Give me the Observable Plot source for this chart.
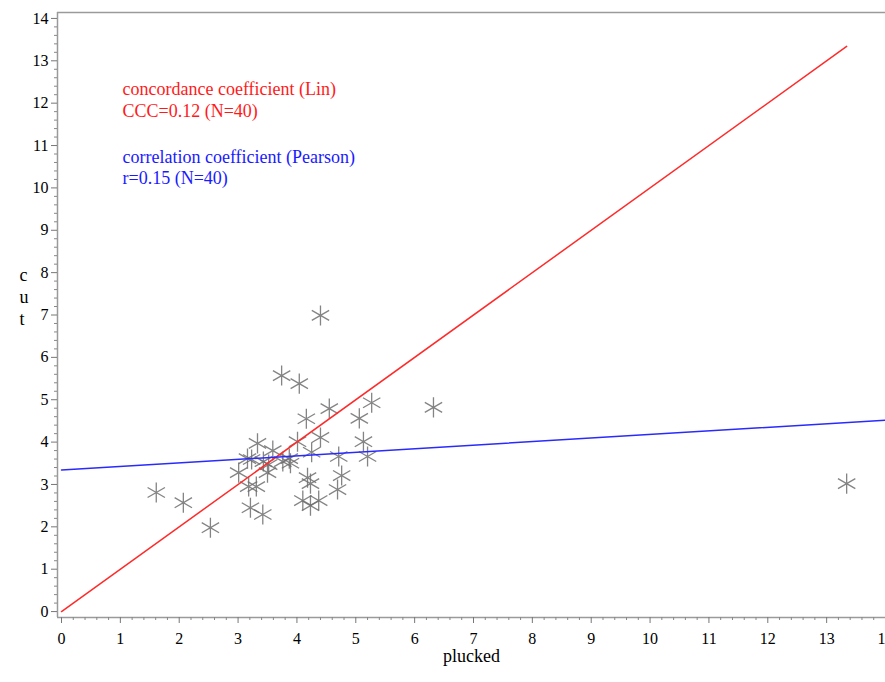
<!DOCTYPE html>
<html>
<head>
<meta charset="utf-8">
<script src="https://cdn.jsdelivr.net/npm/d3@7"></script>
<script src="https://cdn.jsdelivr.net/npm/@observablehq/plot@0.6"></script>
<style>
  html, body { margin: 0; padding: 0; background: #fff; }
</style>
</head>
<body>
<div id="chart"></div>
<script>
// Data
const plucked = [1.61, 2.07, 2.53, 3.01, 3.16, 3.23, 3.33, 3.43, 3.52, 3.50,
                 3.18, 3.21, 3.42, 3.74, 4.04, 4.40, 4.16, 4.55, 5.27, 6.32,
                 5.06, 4.40, 4.01, 5.13, 4.25, 3.89, 4.71, 5.20, 4.18, 4.76,
                 4.23, 4.69, 4.10, 4.37, 13.34, 3.59, 3.31, 3.87, 4.23, 3.76];
const cut     = [2.81, 2.57, 1.98, 3.28, 3.61, 3.59, 3.97, 3.54, 3.47, 3.28,
                 2.95, 2.45, 2.29, 5.57, 5.38, 6.99, 4.55, 4.79, 4.93, 4.82,
                 4.56, 4.11, 4.01, 4.01, 3.76, 3.50, 3.66, 3.66, 3.16, 3.21,
                 3.02, 2.88, 2.62, 2.62, 3.02, 3.80, 2.95, 3.61, 2.50, 3.54];

// Pearson regression line
const regIntercept = 3.34;
const regSlope = 0.084;
const regRange = [0, 14];

const xMajorTicks = d3.range(0, 15);
const yMajorTicks = d3.range(0, 15);
const xMinorTicks = d3.range(0, 70).map(i => i / 5).filter(v => !Number.isInteger(v));
const yMinorTicks = d3.range(0, 70).map(i => i / 5).filter(v => !Number.isInteger(v));

const xDomain = [-0.068, 14.0];
const yDomain = [-0.14, 14.14];

const annotationLin = "concordance coefficient (Lin)\nCCC=0.12 (N=40)";
const annotationPearson = "correlation coefficient (Pearson)\nr=0.15 (N=40)";

const points = plucked.map((p, i) => ({plucked: p, cut: cut[i]}));
const maxPlucked = d3.max(plucked);
const identityLine = [0, maxPlucked].map(v => ({x: v, y: v}));
const regLine = regRange.map(v => ({x: v, y: regIntercept + regSlope * v}));

const chart = Plot.plot({
  width: 885,
  height: 682,
  marginLeft: 57,
  marginRight: 0,
  marginTop: 12,
  marginBottom: 65,
  x: {domain: xDomain},
  y: {domain: yDomain},
  style: {fontFamily: "'Liberation Serif', 'Times New Roman', serif", fontSize: "16px", background: "white", color: "black", overflow: "visible"},
  marks: [
    // frame lines
    Plot.ruleX([xDomain[0]], {stroke: "#9a9a9a", strokeWidth: 1.5}),
    Plot.ruleY([yDomain[0]], {stroke: "#9a9a9a", strokeWidth: 1.5}),
    Plot.ruleY([yDomain[1]], {stroke: "#9a9a9a", strokeWidth: 1.5}),
    // axes
    Plot.axisX({ticks: xMajorTicks, tickSize: 6, tickPadding: 9, stroke: "#777", fill: "black", label: null, fontSize: 16}),
    Plot.axisX({ticks: xMinorTicks, tickSize: 3, stroke: "#888", text: null, label: null}),
    Plot.axisY({ticks: yMajorTicks, tickSize: 6, tickPadding: 3, stroke: "#777", fill: "black", label: null, fontSize: 16}),
    Plot.axisY({ticks: yMinorTicks, tickSize: 3, stroke: "#888", text: null, label: null}),
    // axis labels
    Plot.text(["plucked"], {frameAnchor: "bottom", dy: 44, fontSize: 18, fill: "black"}),
    Plot.text(["c\nu\nt"], {frameAnchor: "left", dx: -38, dy: -19, fontSize: 18, lineHeight: 1.2, fill: "black"}),
    // data
    Plot.dot(points, {x: "plucked", y: "cut", symbol: "asterisk", r: 9.5, stroke: "#6f6f6f", strokeWidth: 1.3, strokeOpacity: 0.85}),
    Plot.line(identityLine, {x: "x", y: "y", stroke: "#ff2a2a", strokeWidth: 1.5}),
    Plot.line(regLine, {x: "x", y: "y", stroke: "#2a2aff", strokeWidth: 1.5}),
    // annotations
    Plot.text([annotationLin], {frameAnchor: "top-left", dx: 65, dy: 68, textAnchor: "start", lineAnchor: "top", fontSize: 18, lineHeight: 1.17, fill: "#ff1a1a"}),
    Plot.text([annotationPearson], {frameAnchor: "top-left", dx: 65, dy: 135, textAnchor: "start", lineAnchor: "top", fontSize: 18, lineHeight: 1.2, fill: "#1a1aff"})
  ]
});

document.getElementById("chart").appendChild(chart);
</script>
</body>
</html>
